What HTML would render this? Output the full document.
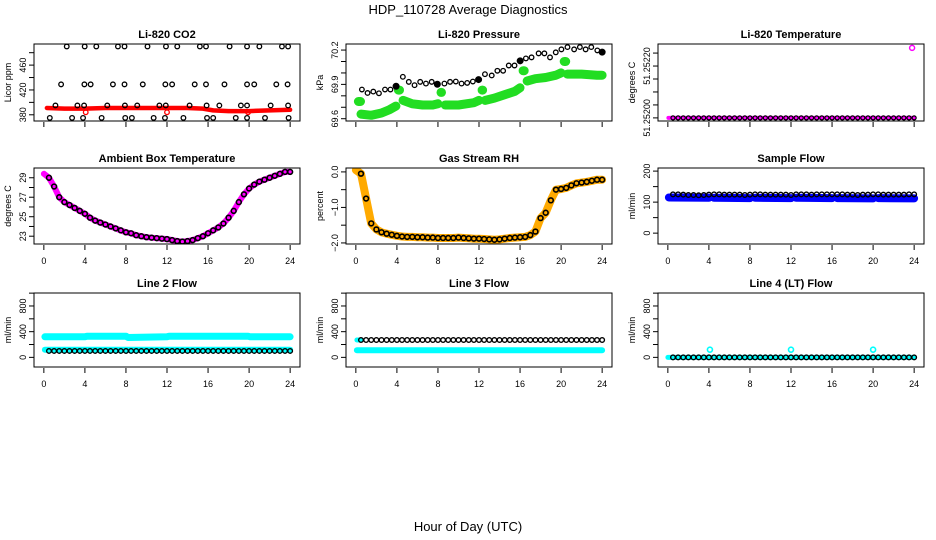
<!DOCTYPE html>
<html><head><meta charset="utf-8">
<style>
html,body{margin:0;padding:0;background:#fff;}
svg{display:block;font-family:"Liberation Sans",sans-serif;}
</style></head>
<body>
<svg id="chart" width="936" height="540" viewBox="0 0 936 540">
<text x="468" y="14" text-anchor="middle" font-size="13">HDP_110728  Average Diagnostics</text>
<text x="468" y="531" text-anchor="middle" font-size="13">Hour of Day (UTC)</text>
</svg>
<script>
// shared sample times (hours)
const TIMES = [0,0.5,1,1.5,2,2.5,3,3.5,4,4.5,5,5.5,6,6.5,7,7.5,8,8.5,9,9.5,10,10.5,11,11.5,12,12.5,13,13.5,14,14.5,15,15.5,16,16.5,17,17.5,18,18.5,19,19.5,20,20.5,21,21.5,22,22.5,23,23.5,24];
const XTICKS = [0,4,8,12,16,20,24];

// CO2
const co2OutT = [2.23,3.98,5.11,7.22,7.86,10.1,11.9,13.0,15.2,15.8,18.1,19.8,21.0,23.2,23.8,
 1.68,3.95,4.56,6.73,7.86,9.64,11.84,12.5,14.7,15.8,17.6,19.8,20.5,22.65,23.75,
 1.13,3.27,3.92,6.18,7.9,9.1,11.26,11.88,14.2,15.86,17.1,19.2,19.8,22.1,23.8,
 0.58,2.75,3.82,5.63,7.93,8.58,10.7,11.8,13.6,15.9,16.5,18.7,19.8,21.55,23.85];
const co2OutV = [490,490,490,490,490,490,490,490,490,490,490,490,490,490,490,
 429,429,429,429,429,429,429,429,429,429,429,429,429,429,429,
 395,395,395,395,395,395,395,395,395,395,395,395,395,395,395,
 375,375,375,375,375,375,375,375,375,375,375,375,375,375,375];
const co2BandT = [0.3,2,4,6,8,10,12,14,15.5,16.5,18,20,22,24];
const co2BandV = [391,390,390,391,391,391,391,391,390,387,386,386,387,388];
const co2RedT = [4.08,12.0,19.9];
const co2RedV = [384,384,384];

// Pressure
const presT = [0.59,1.14,1.70,2.25,2.84,3.37,3.92,4.58,5.16,5.72,6.27,6.83,7.39,7.94,8.63,9.18,9.74,10.3,10.85,11.4,11.96,12.58,13.24,13.79,14.35,14.9,15.46,16.01,16.57,17.12,17.81,18.37,18.92,19.48,20.03,20.62,21.27,21.83,22.39,22.94,23.53,24.0];
const presV = [69.855,69.825,69.837,69.822,69.855,69.855,69.884,69.966,69.922,69.893,69.922,69.907,69.922,69.901,69.907,69.922,69.925,69.907,69.913,69.925,69.942,69.989,69.978,70.019,70.019,70.065,70.065,70.106,70.127,70.136,70.171,70.171,70.136,70.18,70.206,70.226,70.206,70.226,70.206,70.226,70.197,70.182];
const presBandT = [0.25,0.45,null,0.5,1.5,2.5,3.3,3.9,null,4.15,4.25,null,4.6,5.5,6.5,7.5,8.0,null,8.3,8.35,null,8.7,10,11.5,12,null,12.3,12.35,null,12.6,13.5,14.5,15.5,16,null,16.3,16.4,null,16.7,17.5,18.5,19.5,20,null,20.3,20.45,null,20.6,22,23.5,24];
const presBandV = [69.75,69.75,null,69.64,69.63,69.65,69.68,69.71,null,69.85,69.85,null,69.76,69.73,69.72,69.72,69.73,null,69.83,69.83,null,69.72,69.72,69.74,69.76,null,69.85,69.85,null,69.76,69.78,69.81,69.84,69.87,null,70.02,70.02,null,69.93,69.95,69.96,69.98,70.0,null,70.1,70.1,null,69.99,69.99,69.98,69.98];
const presFilledT = [3.92,7.94,11.96,16.01,24.0];
const presFilledV = [69.884,69.901,69.942,70.106,70.182];

// Li-820 temperature
const tempV = [51.252,51.252,51.252,51.252,51.252,51.252,51.252,51.252,51.252,51.252,51.252,51.252,51.252,51.252,51.252,51.252,51.252,51.252,51.252,51.252,51.252,51.252,51.252,51.252,51.252,51.252,51.252,51.252,51.252,51.252,51.252,51.252,51.252,51.252,51.252,51.252,51.252,51.252,51.252,51.252,51.252,51.252,51.252,51.252,51.252,51.252,51.252,51.252,51.252];
const tempBandT = [0.05,24];
const tempBandV = [51.252,51.252];
const tempOutT = [23.8];
const tempOutV = [51.25227];

// Ambient box temperature
const ambV = [29.4,29.0,28.1,27.0,26.5,26.2,25.9,25.6,25.3,24.9,24.6,24.4,24.2,24.0,23.8,23.6,23.4,23.3,23.1,23.0,22.9,22.85,22.8,22.75,22.7,22.6,22.5,22.45,22.5,22.6,22.8,23.0,23.3,23.6,23.9,24.3,24.9,25.6,26.5,27.3,27.9,28.3,28.6,28.8,29.0,29.2,29.4,29.6,29.6];

// Gas stream RH
const rhV = [0.05,-0.05,-0.75,-1.45,-1.62,-1.7,-1.74,-1.77,-1.8,-1.82,-1.83,-1.83,-1.84,-1.84,-1.85,-1.85,-1.86,-1.86,-1.86,-1.86,-1.85,-1.86,-1.87,-1.88,-1.88,-1.89,-1.9,-1.91,-1.9,-1.88,-1.86,-1.85,-1.84,-1.83,-1.78,-1.68,-1.3,-1.15,-0.8,-0.5,-0.48,-0.45,-0.38,-0.32,-0.3,-0.28,-0.25,-0.22,-0.22];

// Sample flow
const sfV = [null,125,125,124,123,123,122,123,124,125,125,124,124,124,124,123,124,125,125,124,124,124,124,124,123,125,125,125,124,125,125,125,125,125,125,124,124,123,124,124,125,125,124,124,124,124,124,125,125];
const sfBandT = [0.1,4,null,4.5,8,null,8.5,12,null,12.5,16,null,16.5,20,null,20.5,24];
const sfBandV = [115,114,null,114,113,null,114,113,null,114,113,null,113,112,null,113,112];

// Line 2 flow
const l2V = [null,100,100,100,100,100,100,100,100,100,100,100,100,100,100,100,100,100,100,100,100,100,100,100,100,100,100,100,100,100,100,100,100,100,100,100,100,100,100,100,100,100,100,100,100,100,100,100,100];
const l2UpT = [0.1,4,4.2,8,8.2,12,12.2,19.9,20.1,24];
const l2UpV = [320,320,330,330,310,320,330,330,320,320];
const l2LowT = [0.1,24];
const l2LowV = [120,120];

// Line 3 flow
const l3V = [null,270,270,270,270,270,270,270,270,270,270,270,270,270,270,270,270,270,270,270,270,270,270,270,270,270,270,270,270,270,270,270,270,270,270,270,270,270,270,270,270,270,270,270,270,270,270,270,270];
const l3BandT = [0.1,24];
const l3BandV = [112,112];
const l3TopT = [0.1,0.5];
const l3TopV = [270,270];

// Line 4 flow
const l4V = [null,0,0,0,0,0,0,0,0,0,0,0,0,0,0,0,0,0,0,0,0,0,0,0,0,0,0,0,0,0,0,0,0,0,0,0,0,0,0,0,0,0,0,0,0,0,0,0,0];
const l4BandT = [0,24];
const l4BandV = [0,0];
const l4OutT = [4.1,12.0,20.0];
const l4OutV = [120,120,120];

const NS = 'http://www.w3.org/2000/svg';
const svg = document.getElementById('chart');
function mk(tag, attrs, parent){ const e = document.createElementNS(NS, tag); for (const k in attrs) e.setAttribute(k, attrs[k]); (parent||svg).appendChild(e); return e; }

function panel(cfg){
  const g = mk('g', {});
  
  
  const L=cfg.left, T=cfg.top, W=266, H=cfg.h;
  const xs = t => L + (t + 0.96) / 25.92 * W;
  const ys = v => T + H - (v - cfg.ymin) / (cfg.ymax - cfg.ymin) * H;
  const title = mk('text', {x: L + W/2, y: T - 6, 'text-anchor':'middle', 'font-size':11, 'font-weight':'bold'}, g);
  title.textContent = cfg.title;
  
  
  const yt = mk('text', {x: 0, y: 0, 'text-anchor':'middle', 'font-size':9, transform:`translate(${L-23},${T+H/2}) rotate(-90)`}, g);
  yt.textContent = cfg.ylab;
  
  
  XTICKS.forEach(t => {
    const tk = mk('line', {x1: xs(t), x2: xs(t), y1: T+H+1, y2: T+H+6, stroke:'#000'}, g);
    
    
    if (cfg.xlabels){
      const lb = mk('text', {x: xs(t), y: T+H+20, 'text-anchor':'middle', 'font-size':9}, g);
      lb.textContent = String(t);
      
      
    }
  });
  cfg.yticks.forEach(v => {
    const tk = mk('line', {x1: L-5, x2: L, y1: ys(v), y2: ys(v), stroke:'#000'}, g);
    
    
  });
  cfg.ylabels.forEach((v,i) => {
    const yy = ys(v);
    const lb = mk('text', {x:0, y:0, 'text-anchor':'middle', 'font-size':9, transform:`translate(${L-8},${yy}) rotate(-90)`}, g);
    lb.textContent = cfg.ylabelText ? cfg.ylabelText[i] : String(v);
    
    
  });
  const clipId = 'c' + cfg.name;
  const cp = mk('clipPath', {id: clipId}, g);
  mk('rect', {x:L, y:T, width:W, height:H}, cp);
  const plot = mk('g', {'clip-path':`url(#${clipId})`}, g);
  cfg.draw(plot, xs, ys);
  const box = mk('rect', {x:L, y:T, width:W, height:H, fill:'none', stroke:'#000', 'stroke-width':1}, g);
  
  
}

function band(p, xs, ys, ts, vs, color, w, name){
  let d = '', pen = false;
  for (let i=0;i<ts.length;i++){
    if (ts[i]===null || vs[i]===null){ pen=false; continue; }
    d += (pen?'L':'M') + xs(ts[i]).toFixed(1) + ',' + ys(vs[i]).toFixed(1);
    pen = true;
  }
  const e = mk('path', {d: d, fill:'none', stroke: color, 'stroke-width': w, 'stroke-linecap':'round', 'stroke-linejoin':'round'}, p);
  
  
}
function pts(p, xs, ys, ts, vs, color, name, r, sw, fill){
  for (let i=0;i<ts.length;i++){
    if (vs[i]===null || ts[i]===null) continue;
    const c = mk('circle', {cx: xs(ts[i]), cy: ys(vs[i]), r: r||2.3, fill: fill||'none', stroke: color, 'stroke-width': sw||1.3}, p);
    
    
  }
}

const COLS=[34,346,658], ROWS=[44,168,293], HS=[77,76,74];

panel({name:'co2-panel', left:COLS[0], top:ROWS[0], h:HS[0], ymin:370, ymax:494, title:'Li-820 CO2', ylab:'Licor ppm', xlabels:false,
  yticks:[380,400,420,440,460,480], ylabels:[380,420,460],
  draw:(p,xs,ys)=>{ band(p,xs,ys,co2BandT,co2BandV,'#ff0000',4.5,'co2-band'); pts(p,xs,ys,co2RedT,co2RedV,'#ff0000','co2-red-point'); pts(p,xs,ys,co2OutT,co2OutV,'#000','co2-point'); }});

panel({name:'pressure-panel', left:COLS[1], top:ROWS[0], h:HS[0], ymin:69.58, ymax:70.253, title:'Li-820 Pressure', ylab:'kPa', xlabels:false,
  yticks:[69.6,69.7,69.8,69.9,70.0,70.1,70.2], ylabels:[69.6,69.9,70.2], ylabelText:['69.6','69.9','70.2'],
  draw:(p,xs,ys)=>{ band(p,xs,ys,presBandT,presBandV,'#22dd22',9,'pressure-band'); pts(p,xs,ys,presT,presV,'#000','pressure-point'); pts(p,xs,ys,presFilledT,presFilledV,'#000','pressure-filled-point',3,1,'#000'); }});

panel({name:'li820-temperature-panel', left:COLS[2], top:ROWS[0], h:HS[0], ymin:51.251988, ymax:51.252285, title:'Li-820 Temperature', ylab:'degrees C', xlabels:false,
  yticks:[51.252,51.25205,51.2521,51.25215,51.2522,51.25225], ylabels:[51.252,51.2522], ylabelText:['51.25200','51.25220'],
  draw:(p,xs,ys)=>{ band(p,xs,ys,tempBandT,tempBandV,'#ff00ff',4,'temperature-band'); pts(p,xs,ys,TIMES.slice(1),tempV.slice(1),'#000','temperature-point',2,1.2); pts(p,xs,ys,tempOutT,tempOutV,'#ff00ff','temperature-outlier',2.5,1.5); }});

panel({name:'ambient-panel', left:COLS[0], top:ROWS[1], h:HS[1], ymin:22.2, ymax:30.0, title:'Ambient Box Temperature', ylab:'degrees C', xlabels:true,
  yticks:[23,24,25,26,27,28,29], ylabels:[23,25,27,29],
  draw:(p,xs,ys)=>{ band(p,xs,ys,TIMES,ambV,'#ff00ff',6,'ambient-band'); pts(p,xs,ys,TIMES.slice(1),ambV.slice(1),'#000','ambient-point',2.4,1.6); }});

panel({name:'rh-panel', left:COLS[1], top:ROWS[1], h:HS[1], ymin:-2.03, ymax:0.11, title:'Gas Stream RH', ylab:'percent', xlabels:true,
  yticks:[-2,-1.5,-1,-0.5,0], ylabels:[-2,-1,0], ylabelText:['\u22122.0','\u22121.0','0.0'],
  draw:(p,xs,ys)=>{ band(p,xs,ys,TIMES,rhV,'#ffaa00',8,'rh-band'); pts(p,xs,ys,TIMES.slice(1),rhV.slice(1),'#000','rh-point',2.4,1.6); }});

panel({name:'sample-flow-panel', left:COLS[2], top:ROWS[1], h:HS[1], ymin:-35, ymax:210, title:'Sample Flow', ylab:'ml/min', xlabels:true,
  yticks:[0,50,100,150,200], ylabels:[0,100,200],
  draw:(p,xs,ys)=>{ band(p,xs,ys,sfBandT,sfBandV,'#0000ff',8,'sample-flow-band'); pts(p,xs,ys,TIMES,sfV,'#000','sample-flow-point',2.3,1.4); }});

panel({name:'line2-flow-panel', left:COLS[0], top:ROWS[2], h:HS[2], ymin:-150, ymax:1002, title:'Line 2 Flow', ylab:'ml/min', xlabels:true,
  yticks:[0,200,400,600,800,1000], ylabels:[0,400,800],
  draw:(p,xs,ys)=>{ band(p,xs,ys,l2UpT,l2UpV,'#00ffff',7,'line2-upper-band'); band(p,xs,ys,l2LowT,l2LowV,'#00ffff',6,'line2-lower-band'); pts(p,xs,ys,TIMES,l2V,'#000','line2-point',2.3,1.4); }});

panel({name:'line3-flow-panel', left:COLS[1], top:ROWS[2], h:HS[2], ymin:-150, ymax:1002, title:'Line 3 Flow', ylab:'ml/min', xlabels:true,
  yticks:[0,200,400,600,800,1000], ylabels:[0,400,800],
  draw:(p,xs,ys)=>{ band(p,xs,ys,l3BandT,l3BandV,'#00ffff',6,'line3-band'); band(p,xs,ys,l3TopT,l3TopV,'#00ffff',5,'line3-top-band'); pts(p,xs,ys,TIMES,l3V,'#000','line3-point',2.3,1.4); }});

panel({name:'line4-flow-panel', left:COLS[2], top:ROWS[2], h:HS[2], ymin:-150, ymax:1002, title:'Line 4 (LT) Flow', ylab:'ml/min', xlabels:true,
  yticks:[0,200,400,600,800,1000], ylabels:[0,400,800],
  draw:(p,xs,ys)=>{ band(p,xs,ys,l4BandT,l4BandV,'#00ffff',5,'line4-band'); pts(p,xs,ys,TIMES,l4V,'#000','line4-point',2.3,1.4); pts(p,xs,ys,l4OutT,l4OutV,'#00ffff','line4-outlier',2.5,1.6); }});
</script>
</body></html>
